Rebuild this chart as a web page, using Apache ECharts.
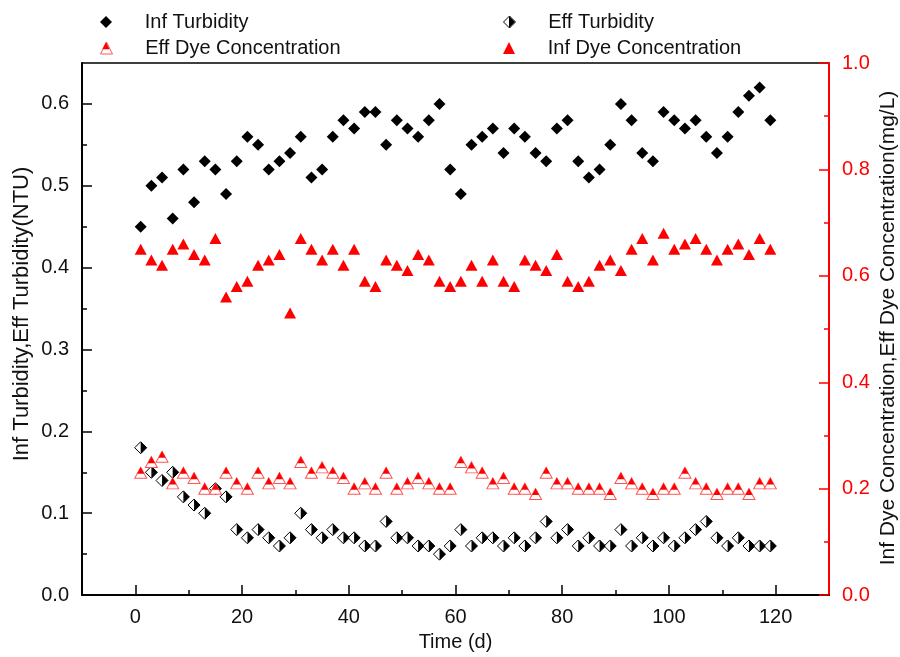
<!DOCTYPE html>
<html>
<head>
<meta charset="utf-8">
<script src="https://cdn.jsdelivr.net/npm/echarts@6.0.0/dist/echarts.min.js"></script>
<style>
  html, body { margin: 0; padding: 0; background: #fff; }
  #chart { width: 900px; height: 657px; }
</style>
</head>
<body>
<div id="chart"></div>
<script>
// ---- Data ----
const days = [1,3,5,7,9,11,13,15,17,19,21,23,25,27,29,31,33,35,37,39,
              41,43,45,47,49,51,53,55,57,59,61,63,65,67,69,71,73,75,77,79,
              81,83,85,87,89,91,93,95,97,99,101,103,105,107,109,111,113,115,117,119];

const infTurbidity = [0.45,0.50,0.51,0.46,0.52,0.48,0.53,0.52,0.49,0.53,
                      0.56,0.55,0.52,0.53,0.54,0.56,0.51,0.52,0.56,0.58,
                      0.57,0.59,0.59,0.55,0.58,0.57,0.56,0.58,0.60,0.52,
                      0.49,0.55,0.56,0.57,0.54,0.57,0.56,0.54,0.53,0.57,
                      0.58,0.53,0.51,0.52,0.55,0.60,0.58,0.54,0.53,0.59,
                      0.58,0.57,0.58,0.56,0.54,0.56,0.59,0.61,0.62,0.58];

const effTurbidity = [0.18,0.15,0.14,0.15,0.12,0.11,0.10,0.13,0.12,0.08,
                      0.07,0.08,0.07,0.06,0.07,0.10,0.08,0.07,0.08,0.07,
                      0.07,0.06,0.06,0.09,0.07,0.07,0.06,0.06,0.05,0.06,
                      0.08,0.06,0.07,0.07,0.06,0.07,0.06,0.07,0.09,0.07,
                      0.08,0.06,0.07,0.06,0.06,0.08,0.06,0.07,0.06,0.07,
                      0.06,0.07,0.08,0.09,0.07,0.06,0.07,0.06,0.06,0.06];

const infDye = [0.65,0.63,0.62,0.65,0.66,0.64,0.63,0.67,0.56,0.58,
                0.59,0.62,0.63,0.64,0.53,0.67,0.65,0.63,0.65,0.62,
                0.65,0.59,0.58,0.63,0.62,0.61,0.64,0.63,0.59,0.58,
                0.59,0.62,0.59,0.63,0.59,0.58,0.63,0.62,0.61,0.64,
                0.59,0.58,0.59,0.62,0.63,0.61,0.65,0.67,0.63,0.68,
                0.65,0.66,0.67,0.65,0.63,0.65,0.66,0.64,0.67,0.65];

const effDye = [0.23,0.25,0.26,0.21,0.23,0.22,0.20,0.20,0.23,0.21,
                0.20,0.23,0.21,0.22,0.21,0.25,0.23,0.24,0.23,0.22,
                0.20,0.21,0.20,0.23,0.20,0.21,0.22,0.21,0.20,0.20,
                0.25,0.24,0.23,0.21,0.22,0.20,0.20,0.19,0.23,0.21,
                0.21,0.20,0.20,0.20,0.19,0.22,0.21,0.20,0.19,0.20,
                0.20,0.23,0.21,0.20,0.19,0.20,0.20,0.19,0.21,0.21];

const xTicks = [0,20,40,60,80,100,120];
const xMinorTicks = [10,30,50,70,90,110];
const leftTicks = [0,0.1,0.2,0.3,0.4,0.5,0.6];
const leftMinorTicks = [0.05,0.15,0.25,0.35,0.45,0.55];
const rightTicks = [0,0.2,0.4,0.6,0.8,1.0];
const rightMinorTicks = [0.1,0.3,0.5,0.7,0.9];

const xTitle = 'Time (d)';
const leftTitle = 'Inf Turbidity,Eff Turbidity(NTU)';
const rightTitle = 'Inf Dye Concentration,Eff Dye Concentration(mg/L)';

// ---- Chart ----
const FONT = '"Liberation Sans", Arial, sans-serif';
const RED = '#ff0000';
const pairs = vals => days.map((d, i) => [d, vals[i]]);

const HALF_DIAMOND = 'path://M-1,1 M0,0 L1,1 L0,2 Z';
const TOP_TRIANGLE = 'path://M0,2 M2,2 M1,0 L1.6,1.2 L0.4,1.2 Z';

function legendItem(name, label, left, top, opts) {
  opts = opts || {};
  return {
    data: [name],
    left: left, top: top,
    padding: 0,
    orient: 'vertical',
    selectedMode: false,
    itemWidth: 12, itemHeight: 12,
    formatter: () => '     ' + label,
    itemStyle: { borderWidth: opts.border || 0, opacity: 1 },
    textStyle: { fontFamily: FONT, fontSize: 20, lineHeight: 20,
                 color: opts.hideText ? 'rgba(0,0,0,0)' : '#111' }
  };
}

const chart = echarts.init(document.getElementById('chart'), null, { renderer: 'canvas' });

const option = {
  backgroundColor: '#fff',
  animation: false,
  grid: { left: 82, right: 71, top: 63, bottom: 53, show: true,
          borderColor: '#000', borderWidth: 1.5, backgroundColor: 'transparent' },
  legend: [
    legendItem('Inf Turbidity', 'Inf Turbidity', 100, 12),
    legendItem('Eff Turbidity', 'Eff Turbidity', 503, 12, { border: 1 }),
    legendItem('Eff Turbidity half', 'Eff Turbidity', 503, 12, { hideText: true }),
    legendItem('Eff Dye Concentration', 'Eff Dye Concentration', 100, 38, { border: 1 }),
    legendItem('Eff Dye top', 'Eff Dye Concentration', 100, 38, { hideText: true }),
    legendItem('Inf Dye Concentration', 'Inf Dye Concentration', 503, 38)
  ],
  xAxis: [
    {
      type: 'value', min: -10, max: 130, position: 'bottom',
      name: xTitle, nameLocation: 'middle', nameGap: 31,
      nameTextStyle: { fontFamily: FONT, fontSize: 20, color: '#111' },
      splitLine: { show: false },
      axisLine: { show: true, onZero: false, lineStyle: { color: '#000', width: 2 } },
      axisTick: { show: true, inside: true, length: 10, customValues: xTicks,
                  lineStyle: { color: '#000', width: 1.5 } },
      axisLabel: { customValues: xTicks, fontFamily: FONT, fontSize: 20, color: '#111', margin: 12 }
    },
    {
      type: 'value', min: -10, max: 130, position: 'bottom',
      splitLine: { show: false },
      axisLine: { show: false, onZero: false },
      axisTick: { show: true, inside: true, length: 5, customValues: xMinorTicks,
                  lineStyle: { color: '#000', width: 1.5 } },
      axisLabel: { show: false }
    }
  ],
  yAxis: [
    {
      type: 'value', min: 0, max: 0.65, position: 'left',
      splitLine: { show: false },
      axisLine: { show: true, onZero: false, lineStyle: { color: '#000', width: 2 } },
      axisTick: { show: true, inside: true, length: 10, customValues: leftTicks,
                  lineStyle: { color: '#000', width: 1.5 } },
      axisLabel: { customValues: leftTicks, formatter: v => v.toFixed(1),
                   fontFamily: FONT, fontSize: 20, color: '#111', margin: 13 }
    },
    {
      type: 'value', min: 0, max: 1, position: 'right',
      splitLine: { show: false },
      axisLine: { show: true, onZero: false, lineStyle: { color: RED, width: 2 } },
      axisTick: { show: true, inside: true, length: 10, customValues: rightTicks,
                  lineStyle: { color: RED, width: 1.5 } },
      axisLabel: { customValues: rightTicks, formatter: v => v.toFixed(1),
                   fontFamily: FONT, fontSize: 20, color: RED, margin: 13 }
    },
    {
      type: 'value', min: 0, max: 0.65, position: 'left',
      splitLine: { show: false }, axisLine: { show: false, onZero: false },
      axisTick: { show: true, inside: true, length: 5, customValues: leftMinorTicks,
                  lineStyle: { color: '#000', width: 1.5 } },
      axisLabel: { show: false }
    },
    {
      type: 'value', min: 0, max: 1, position: 'right',
      splitLine: { show: false }, axisLine: { show: false, onZero: false },
      axisTick: { show: true, inside: true, length: 5, customValues: rightMinorTicks,
                  lineStyle: { color: RED, width: 1.5 } },
      axisLabel: { show: false }
    }
  ],
  graphic: [
    { type: 'text', x: 22, y: 314, rotation: Math.PI / 2,
      style: { text: leftTitle, fontFamily: FONT, fontSize: 22, fill: '#111',
               textAlign: 'center', textVerticalAlign: 'middle', align: 'center', verticalAlign: 'middle' } },
    { type: 'text', x: 888, y: 328, rotation: Math.PI / 2,
      style: { text: rightTitle, fontFamily: FONT, fontSize: 21, fill: '#111',
               textAlign: 'center', textVerticalAlign: 'middle', align: 'center', verticalAlign: 'middle' } }
  ],
  series: [
    { name: 'Inf Turbidity', type: 'scatter', xAxisIndex: 0, yAxisIndex: 0,
      symbol: 'diamond', symbolSize: 12, data: pairs(infTurbidity),
      itemStyle: { color: '#000', opacity: 1 } },
    { name: 'Eff Turbidity', type: 'scatter', xAxisIndex: 0, yAxisIndex: 0,
      symbol: 'diamond', symbolSize: 12, data: pairs(effTurbidity),
      itemStyle: { color: '#fff', borderColor: '#000', borderWidth: 1, opacity: 1 } },
    { name: 'Eff Turbidity half', type: 'scatter', xAxisIndex: 0, yAxisIndex: 0,
      symbol: HALF_DIAMOND, symbolSize: 12, data: pairs(effTurbidity),
      itemStyle: { color: '#000', opacity: 1 } },
    { name: 'Eff Dye Concentration', type: 'scatter', xAxisIndex: 0, yAxisIndex: 1,
      symbol: 'triangle', symbolSize: [12, 11], data: pairs(effDye),
      itemStyle: { color: '#fff', borderColor: '#f55', borderWidth: 1, opacity: 1 } },
    { name: 'Eff Dye top', type: 'scatter', xAxisIndex: 0, yAxisIndex: 1,
      symbol: TOP_TRIANGLE, symbolSize: [12, 11], data: pairs(effDye),
      itemStyle: { color: RED, opacity: 1 } },
    { name: 'Inf Dye Concentration', type: 'scatter', xAxisIndex: 0, yAxisIndex: 1,
      symbol: 'triangle', symbolSize: [12, 11], data: pairs(infDye),
      itemStyle: { color: RED, opacity: 1 } }
  ]
};

chart.setOption(option);
</script>
</body>
</html>
